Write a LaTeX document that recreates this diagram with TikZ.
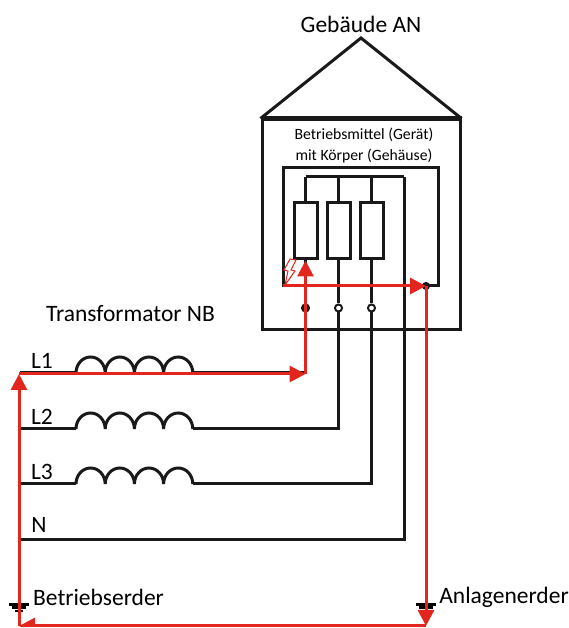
\documentclass[tikz,border=0pt]{standalone}
\usepackage{fontspec}
\setmainfont{Carlito}
\usetikzlibrary{arrows.meta}
\definecolor{faultred}{RGB}{226,38,30}
\tikzset{
  wire/.style={draw=black!90,line width=3pt},
  faultline/.style={draw=faultred,line width=3pt,-{Triangle[length=16pt,width=16pt]}},
  bigtext/.style={inner sep=0pt,font=\fontsize{23.5}{26}\selectfont},
  smalltext/.style={inner sep=0pt,align=center,font=\fontsize{15.7}{21}\selectfont},
  resistor/.style={draw=black!90,line width=3pt,fill=white,minimum width=23pt,minimum height=56pt,inner sep=0pt},
  terminal/.style={circle,draw=black!90,line width=2pt,fill=white,minimum size=7pt,inner sep=0pt},
  coil/.style={wire,x radius=14.6pt,y radius=16pt,start angle=180,end angle=0}
}
\begin{document}
\begin{tikzpicture}[x=1pt,y=1pt]
  \useasboundingbox (0,0) rectangle (568,628);
  \clip (0,1) rectangle (568,628);
  % building
  \node[draw=black!90,line width=3pt,minimum width=198pt,minimum height=210pt,inner sep=0pt] (building) at (361,403) {};
  \coordinate (apex) at (361,590);
  \draw[wire,line join=miter] (building.north west) -- (apex) -- (building.north east);
  \draw[black!90,line width=4.5pt] (building.north west) -- (building.north east);
  \node[bigtext] (titlean) at (361,604) {Gebäude AN};
  \node[smalltext] (device) at (364,482) {Betriebsmittel (Gerät)\\mit Körper (Gehäuse)};
  % housing and windings
  \node[draw=black!90,line width=3pt,minimum width=155pt,minimum height=118pt,inner sep=0pt] (housing) at (360.5,401) {};
  \node[resistor] (r1) at (305.5,397) {};
  \node[resistor] (r2) at (338.5,397) {};
  \node[resistor] (r3) at (371.5,397) {};
  \coordinate (bus1) at (305.5,451);
  \coordinate (bus2) at (338.5,451);
  \coordinate (bus3) at (371.5,451);
  \coordinate (bus4) at (404,451);
  \node[terminal,fill=black!90] (t1) at (305.5,320) {};
  \node[terminal] (t2) at (338.5,320) {};
  \node[terminal] (t3) at (371.5,320) {};
  \node[terminal,fill=black!90,minimum size=6pt] (pe) at (426,342) {};
  % lines from the transformer
  \coordinate (l1a) at (20,255);
  \coordinate (l1b) at (76,255);
  \coordinate (l1c) at (193,255);
  \coordinate (l1d) at (305.5,255);
  \coordinate (l2a) at (20,199);
  \coordinate (l2b) at (76,199);
  \coordinate (l2c) at (193,199);
  \coordinate (l2d) at (338.5,199);
  \coordinate (l3a) at (20,144);
  \coordinate (l3b) at (76,144);
  \coordinate (l3c) at (193,144);
  \coordinate (l3d) at (371.5,144);
  \coordinate (na) at (20,88);
  \coordinate (nd) at (404,88);
  \draw[wire] (bus1) -- (r1.north);
  \draw[wire] (bus1) -- (bus4);
  \draw[wire] (bus2) -- (r2.north);
  \draw[wire] (bus3) -- (r3.north);
  \draw[wire] (r1.south) -- (t1) -- (l1d);
  \draw[wire] (r2.south) -- (t2) -- (l2d) -- (l2c);
  \draw[wire] (r3.south) -- (t3) -- (l3d) -- (l3c);
  \draw[wire] (bus4) -- (nd) -- (na);
  \draw[wire] (l1a) -- (l1b);
  \draw[wire] (l2a) -- (l2b);
  \draw[wire] (l3a) -- (l3b);
  \draw[wire] (l1c) -- (l1d);
  \draw[wire] (housing.east |- pe) -- (pe);
  \draw[coil] (l1b) arc[coil] arc[coil] arc[coil] arc[coil];
  \draw[coil] (l2b) arc[coil] arc[coil] arc[coil] arc[coil];
  \draw[coil] (l3b) arc[coil] arc[coil] arc[coil] arc[coil];
  \node[terminal,draw=none,fill=white,minimum size=4pt] (t2hole) at (t2) {};
  \node[terminal,draw=none,fill=white,minimum size=4pt] (t3hole) at (t3) {};
  \node[bigtext] (trafo) at (130.5,314) {Transformator NB};
  \node[bigtext] (labl1) at (42,267) {L1};
  \node[bigtext] (labl2) at (42,211) {L2};
  \node[bigtext] (labl3) at (42,156) {L3};
  \node[bigtext] (labn) at (39,103) {N};
  % earth symbols
  \coordinate (earth1) at (19,23);
  \coordinate (earth2) at (426,23);
  \draw[black,line width=3pt] ([xshift=-10pt]earth1) -- ([xshift=10pt]earth1);
  \draw[black,line width=3pt] ([xshift=-7pt,yshift=-3pt]earth1) -- ([xshift=7pt,yshift=-3pt]earth1);
  \draw[black,line width=2pt] ([xshift=-4pt,yshift=-6pt]earth1) -- ([xshift=4pt,yshift=-6pt]earth1);
  \draw[black,line width=3pt] ([xshift=-10pt]earth2) -- ([xshift=10pt]earth2);
  \draw[black,line width=3pt] ([xshift=-7pt,yshift=-3pt]earth2) -- ([xshift=7pt,yshift=-3pt]earth2);
  \draw[black,line width=2pt] ([xshift=-4pt,yshift=-6pt]earth2) -- ([xshift=4pt,yshift=-6pt]earth2);
  \node[bigtext] (betrieb) at (98.5,31) {Betriebserder};
  \node[bigtext] (anlage) at (504,31) {Anlagenerder};
  % fault current
  \coordinate (g1) at (19,2);
  \coordinate (g2) at (426,2);
  \coordinate (f1) at (19,254);
  \coordinate (f2) at (305.5,254);
  \coordinate (f3) at (283,342);
  \coordinate (f4) at (426,342);
  \draw[draw=faultred,line width=1pt,fill=white] (296,368) -- (291,358) -- (295,357) -- (285,343) -- (288,357) -- (284,358) -- (290,369) -- cycle;
  \draw[faultline] (f2) -- (r1.south);
  \draw[faultline] (f1) -- (f2);
  \draw[faultline] (g1) -- (f1);
  \draw[faultline] (g2) -- (g1);
  \draw[faultline] (f4) -- (g2);
  \draw[faultline] (f3) -- (f4);
\end{tikzpicture}
\end{document}
